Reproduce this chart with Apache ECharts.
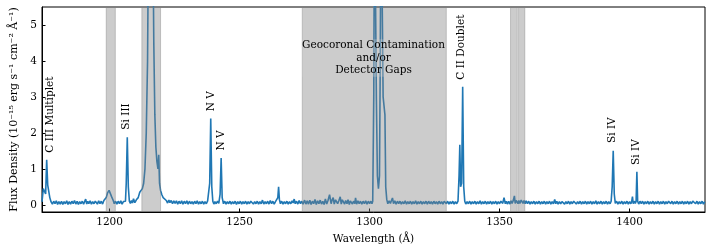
<!DOCTYPE html>
<html><head><meta charset="utf-8">
<script src="https://cdn.jsdelivr.net/npm/echarts@6/dist/echarts.min.js"></script>
<style>html,body{margin:0;padding:0;background:#fff}#c{width:712px;height:250px}</style>
</head><body><div id="c"></div>
<script>
// Spectrum: [wavelength (Å), flux (1e-15 erg s^-1 cm^-2 Å^-1)]
const spectrum = [
[1174.0,0.08],[1174.5,0.45],[1175.0,0.5],[1175.4,0.3],[1175.8,1.25],[1176.2,0.55],[1176.6,0.5],[1177.0,0.2],[1177.5,0.08],
[1178,0.02],[1178.5,0.1],[1179,0.03],[1179.5,0.11],[1180,0.01],[1180.5,0.09],[1181,0.02],[1181.5,0.1],[1182,0.01],[1182.5,0.09],[1183,0.03],[1183.5,0.11],[1184,0.01],[1184.5,0.09],[1185,0.02],[1185.5,0.1],[1186,0.03],[1186.5,0.12],[1187,0.02],[1187.5,0.1],
[1188,0.01],[1188.5,0.09],[1189,0.03],[1189.5,0.1],[1190,0.02],[1190.8,0.16],[1191.2,0.02],[1191.6,0.1],[1192,0.03],[1192.5,0.11],[1193,0.02],[1193.5,0.09],[1194,0.03],[1194.5,0.1],[1194.9,0.14],[1195.3,0.02],
[1195.8,0.11],[1196.3,0.03],[1196.8,0.1],[1197.3,0.02],[1197.8,0.12],[1198.3,0.1],[1198.7,0.2],[1199.2,0.33],[1199.8,0.4],[1200.3,0.35],[1200.8,0.22],[1201.4,0.12],[1201.8,0.03],[1202.3,0.1],
[1202.8,0.02],[1203.3,0.1],[1203.8,0.03],[1204.3,0.11],[1204.8,0.02],[1205.3,0.09],[1205.8,0.04],[1206.1,0.1],[1206.4,0.6],[1206.8,1.88],[1207.2,0.5],[1207.6,0.1],[1208,0.04],[1208.4,0.12],[1208.8,0.05],
[1209.2,0.17],[1209.7,0.06],[1210.3,0.14],[1211,0.2],[1211.6,0.35],[1212.1,0.3],[1212.6,0.45],[1213.1,0.6],[1213.6,1.0],
[1214.1,2.0],[1214.6,4.0],[1215.0,8],[1215.8,25],[1216.6,8],[1217.0,4.5],[1217.4,2.5],[1217.8,1.6],[1218.2,1.2],[1218.6,1.0],
[1218.9,1.39],[1219.2,0.6],[1219.6,0.4],[1220.1,0.28],[1220.6,0.2],[1221.2,0.15],[1221.8,0.12],[1222.3,0.05],[1222.8,0.13],[1223.2,0.06],
[1223.7,0.12],[1224.2,0.03],[1224.7,0.11],[1225.2,0.04],[1225.7,0.11],[1226.2,0.02],[1226.7,0.1],[1227.2,0.03],[1227.7,0.11],[1228.2,0.02],[1228.7,0.1],[1229.2,0.03],[1229.7,0.11],[1230.2,0.02],[1230.7,0.1],[1231.2,0.03],[1231.7,0.09],[1232.2,0.02],[1232.7,0.1],[1233.2,0.03],
[1233.7,0.11],[1234.2,0.02],[1234.7,0.09],[1235.2,0.03],[1235.7,0.1],[1236.2,0.02],[1236.7,0.09],[1237.2,0.03],[1237.7,0.11],[1238.1,0.1],[1238.5,0.6],[1238.9,2.4],[1239.3,0.5],[1239.7,0.1],[1240.1,0.02],[1240.5,0.09],
[1241.0,0.03],[1241.5,0.1],[1242.0,0.04],[1242.5,0.3],[1242.9,1.3],[1243.3,0.2],[1243.8,0.03],[1244.3,0.1],[1244.8,0.02],[1245.3,0.09],[1245.8,0.03],[1246.3,0.1],
[1246.8,0.02],[1247.3,0.09],[1247.8,0.03],[1248.3,0.1],[1248.8,0.01],[1249.3,0.09],[1249.8,0.03],[1250.3,0.1],[1250.8,0.02],[1251.3,0.09],[1251.8,0.03],[1252.3,0.1],[1252.8,0.02],[1253.3,0.09],[1253.8,0.03],[1254.3,0.1],[1254.8,0.12],[1255.3,0.02],[1255.8,0.09],[1256.3,0.03],
[1256.8,0.1],[1257.3,0.02],[1257.8,0.09],[1258.3,0.03],[1258.8,0.13],[1259.3,0.02],[1259.8,0.09],[1260.3,0.03],[1260.8,0.1],[1261.3,0.02],[1261.8,0.12],[1262.3,0.03],[1262.8,0.1],[1263.3,0.02],[1263.8,0.09],[1264.3,0.05],[1264.7,0.2],[1265,0.5],
[1265.3,0.15],[1265.7,0.03],[1266.2,0.1],[1266.7,0.02],[1267.2,0.09],[1267.7,0.03],[1268.2,0.1],[1268.7,0.02],[1269.2,0.09],[1269.7,0.03],[1270.2,0.11],[1270.6,0.05],[1271,0.16],[1271.4,0.03],[1271.9,0.1],[1272.4,0.02],[1272.9,0.12],[1273.4,0.03],
[1273.9,0.1],[1274.4,0.02],[1275,0.13],[1275.5,0.02],[1276,0.11],[1276.5,0.02],[1277,0.13],[1277.5,0.01],[1278,0.1],[1278.5,0.03],[1279,0.15],[1279.5,0.01],[1280,0.11],[1280.5,0.03],[1281,0.13],[1281.5,0.02],[1282,0.1],[1282.5,0.01],[1283,0.16],
[1283.5,0.02],[1284,0.12],[1284.6,0.28],[1285.2,0.03],[1285.6,0.14],[1286,0.2],[1286.4,0.02],[1286.9,0.14],[1287.3,0.18],[1287.7,0.03],[1288.2,0.12],[1288.7,0.22],[1289.1,0.02],[1289.5,0.14],
[1290,0.17],[1290.4,0.02],[1290.8,0.12],[1291.3,0.03],[1291.7,0.14],[1292.2,0.01],[1292.6,0.11],[1293,0.12],[1293.4,0.02],[1293.8,0.1],[1294.3,0.03],[1294.6,0.19],[1295.0,0.02],[1295.5,0.11],[1296,0.03],[1296.5,0.1],
[1297,0.02],[1297.5,0.1],[1298,0.03],[1298.5,0.11],[1299,0.02],[1299.5,0.1],[1300,0.03],[1300.5,0.1],[1300.9,0.03],[1301.2,0.1],[1301.6,3],[1301.9,9],[1302.3,9],[1302.6,3],
[1303.0,0.8],[1303.4,0.45],[1303.8,0.8],[1304.1,4],[1304.4,9],[1304.9,9],[1305.2,3.0],[1305.6,2.97],[1305.9,2.5],[1306.2,0.5],
[1306.6,0.15],[1307.0,0.03],[1307.5,0.11],[1308,0.04],[1308.4,0.12],[1308.8,0.19],[1309.2,0.03],[1309.7,0.11],[1310.2,0.02],[1310.7,0.1],[1311.2,0.03],[1311.7,0.1],[1312.2,0.02],[1312.7,0.09],[1313.2,0.03],[1313.7,0.11],[1314.2,0.02],[1314.7,0.09],
[1315.2,0.03],[1315.7,0.1],[1316.2,0.02],[1316.7,0.09],[1317.2,0.03],[1317.7,0.11],[1318.2,0.02],[1318.7,0.09],[1319.2,0.03],[1319.7,0.1],[1320.2,0.02],[1320.7,0.09],[1321.2,0.03],[1321.7,0.1],[1322.2,0.02],[1322.7,0.1],[1323.2,0.03],[1323.7,0.09],[1324.2,0.02],[1324.7,0.1],
[1325.2,0.03],[1325.7,0.09],[1326.2,0.02],[1326.7,0.1],[1327.2,0.03],[1327.7,0.09],[1328.2,0.02],[1328.7,0.1],[1329.1,0.13],[1329.5,0.03],[1330,0.1],[1330.5,0.02],[1331,0.09],[1331.5,0.03],[1332,0.1],[1332.5,0.02],[1333,0.09],[1333.5,0.03],[1334,0.1],
[1334.4,0.8],[1334.7,1.67],[1335.0,0.5],[1335.4,0.6],[1335.8,3.28],[1336.2,0.5],[1336.6,0.1],[1337.0,0.02],[1337.5,0.09],[1338.0,0.03],[1338.5,0.1],
[1339.0,0.02],[1339.5,0.09],[1340.0,0.03],[1340.5,0.1],[1341.0,0.02],[1341.5,0.09],[1342.0,0.03],[1342.5,0.11],[1343.0,0.02],[1343.5,0.09],[1344.0,0.03],[1344.5,0.1],[1345.0,0.02],[1345.5,0.09],[1346.0,0.03],[1346.5,0.1],[1347.0,0.02],[1347.5,0.09],
[1348.0,0.03],[1348.5,0.1],[1349.0,0.02],[1349.5,0.09],[1350.0,0.03],[1350.5,0.1],[1351.2,0.04],[1351.7,0.2],[1352.2,0.03],[1352.6,0.1],[1353,0.02],[1353.5,0.1],[1354,0.02],[1354.4,0.11],[1354.8,0.04],
[1355.3,0.13],[1355.7,0.25],[1356.0,0.04],[1356.4,0.12],[1356.8,0.14],[1357.1,0.03],[1357.4,0.12],[1357.8,0.04],[1358.3,0.13],[1358.7,0.18],[1359.0,0.04],[1359.4,0.12],[1359.8,0.03],[1360.2,0.11],
[1360.7,0.03],[1361.2,0.1],[1361.7,0.02],[1362.2,0.09],[1362.7,0.03],[1363.2,0.1],[1363.7,0.02],[1364.2,0.09],[1364.7,0.03],[1365.2,0.1],[1365.7,0.02],[1366.2,0.09],[1366.7,0.03],[1367.2,0.1],[1367.7,0.02],[1368.2,0.09],[1368.7,0.03],[1369.2,0.1],[1369.7,0.02],[1370.2,0.09],
[1370.7,0.03],[1371.2,0.15],[1371.6,0.03],[1372.0,0.1],[1372.5,0.02],[1373.0,0.09],[1373.5,0.03],[1374.0,0.09],[1374.5,0.12],[1375.0,0.02],[1375.5,0.09],[1376,0.03],[1376.5,0.1],[1377,0.02],[1377.5,0.09],
[1378,0.03],[1378.5,0.1],[1379,0.11],[1379.5,0.02],[1380,0.09],[1380.5,0.03],[1381,0.1],[1381.5,0.02],[1382,0.09],[1382.5,0.03],[1383,0.1],[1383.5,0.02],[1384,0.09],[1384.5,0.03],[1385,0.1],[1385.5,0.02],[1386,0.09],[1386.5,0.03],[1387,0.11],
[1387.5,0.02],[1388,0.09],[1388.5,0.03],[1389,0.1],[1389.5,0.02],[1390,0.09],[1390.5,0.03],[1391,0.1],[1391.5,0.02],[1392,0.09],[1392.5,0.03],[1392.9,0.1],[1393.3,0.5],[1393.7,1.5],[1394.1,0.3],[1394.5,0.04],
[1395.0,0.1],[1395.5,0.02],[1396,0.09],[1396.5,0.03],[1397,0.1],[1397.5,0.02],[1398,0.09],[1398.5,0.03],[1399,0.1],[1399.5,0.02],[1400,0.09],[1400.5,0.03],[1400.8,0.09],[1401.1,0.23],[1401.4,0.03],[1401.8,0.1],
[1402.2,0.04],[1402.5,0.1],[1402.8,0.92],[1403.1,0.1],[1403.5,0.02],[1404.0,0.1],[1404.5,0.03],[1405.0,0.1],[1405.5,0.02],[1406.0,0.09],[1406.5,0.03],[1407.0,0.1],[1407.5,0.02],[1408.0,0.09],[1408.5,0.03],
[1409.0,0.1],[1409.5,0.02],[1410.0,0.09],[1410.5,0.03],[1411.0,0.1],[1411.5,0.02],[1412.0,0.09],[1412.5,0.03],[1413.0,0.1],[1413.5,0.02],[1414.0,0.09],[1414.5,0.03],[1415.0,0.1],[1415.4,0.15],[1415.8,0.03],[1416.3,0.1],[1416.8,0.02],[1417.3,0.09],
[1417.8,0.03],[1418.3,0.1],[1418.8,0.02],[1419.3,0.09],[1419.8,0.03],[1420.3,0.1],[1420.8,0.02],[1421.3,0.09],[1421.8,0.03],[1422.3,0.1],[1422.8,0.02],[1423.3,0.09],[1423.8,0.03],[1424.3,0.1],[1424.7,0.05],[1425,0.14],[1425.4,0.03],[1425.9,0.1],[1426.4,0.02],
[1426.9,0.09],[1427.4,0.03],[1427.9,0.1],[1428.4,0.02],[1428.9,0.09]
];
// Shaded wavelength intervals (geocoronal contamination / detector gaps)
const maskedRegions = [[1198.7,1202.2],[1212.4,1219.6],[1274.1,1329.5],[1354.2,1356.8],[1357.3,1359.7]];
// Line identifications: [text, wavelength, flux where label starts]
const lineLabels = [
  ['C III Multiplet',1177.1,1.45],['Si III',1206.5,2.09],['N V',1239.0,2.6],['N V',1243.1,1.51],
  ['C II Doublet',1335.3,3.48],['Si IV',1393.3,1.72],['Si IV',1402.6,1.11]
];
const regionNote = ['Geocoronal Contamination\nand/or\nDetector Gaps',1301.5,4.08];
const xTicks = [1200,1250,1300,1350,1400];
const yTicks = [0,1,2,3,4,5];

const FONT = 'DejaVu Serif';
const chart = echarts.init(document.getElementById('c'), null, {renderer:'canvas'});
chart.setOption({
  animation:false,
  grid:{left:42,right:7,top:7,bottom:38,show:true,borderColor:'#000',borderWidth:1,backgroundColor:'transparent'},
  xAxis:{type:'value',min:1174,max:1429,
    name:'Wavelength (Å)',nameLocation:'middle',nameGap:22,
    nameTextStyle:{fontFamily:FONT,fontSize:10.5,color:'#000'},
    axisLine:{show:true,onZero:false,lineStyle:{color:'#000',width:1}},
    axisTick:{show:true,inside:true,length:3.5,customValues:xTicks,lineStyle:{color:'#000'}},
    axisLabel:{customValues:xTicks,formatter:v=>String(v),fontFamily:FONT,fontSize:10.5,color:'#000',margin:5},
    splitLine:{show:false}},
  yAxis:{type:'value',min:-0.2,max:5.5,
    name:'Flux Density (10⁻¹⁵ erg s⁻¹ cm⁻² Å⁻¹)',nameLocation:'middle',nameGap:20,nameRotate:90,
    nameTextStyle:{fontFamily:FONT,fontSize:11,color:'#000'},
    axisLine:{show:true,onZero:false,lineStyle:{color:'#000',width:1}},
    axisTick:{show:true,inside:true,length:3.5,customValues:yTicks,lineStyle:{color:'#000'}},
    axisLabel:{customValues:yTicks,formatter:v=>String(v),fontFamily:FONT,fontSize:10.5,color:'#000',margin:5},
    splitLine:{show:false}},
  series:[
    {type:'line',data:spectrum,showSymbol:false,symbol:'none',sampling:'none',clip:true,z:2,
     lineStyle:{color:'#1f77b4',width:1.6},silent:true},
    {type:'custom',z:3,silent:true,data:maskedRegions,encode:{x:[0,1]},clip:true,
     renderItem:function(params,api){
       const a=api.coord([api.value(0),5.5]);const b=api.coord([api.value(1),-0.2]);
       return {type:'rect',shape:{x:a[0],y:a[1],width:b[0]-a[0],height:b[1]-a[1]},
         style:{fill:'rgba(128,128,128,0.4)',stroke:'rgba(128,128,128,0.4)',lineWidth:1}};
     }},
    {type:'custom',z:4,silent:true,data:lineLabels.map(d=>[d[1],d[2]]),
     renderItem:function(params,api){
       const p=api.coord([api.value(0),api.value(1)]);
       return {type:'text',x:p[0],y:p[1],rotation:Math.PI/2,
         style:{text:lineLabels[params.dataIndex][0],x:0,y:0,align:'left',verticalAlign:'middle',
           fontFamily:FONT,fontSize:10.5,fill:'#000'}};
     }},
    {type:'custom',z:5,silent:true,data:[[regionNote[1],regionNote[2]]],
     renderItem:function(params,api){
       const p=api.coord([api.value(0),api.value(1)]);
       return {type:'text',x:p[0],y:p[1],
         style:{text:regionNote[0],x:0,y:0,align:'center',verticalAlign:'middle',lineHeight:12.5,
           fontFamily:FONT,fontSize:10.5,fill:'#000',backgroundColor:'rgba(204,204,204,0.3)'}};
     }}
  ]
});
</script></body></html>
